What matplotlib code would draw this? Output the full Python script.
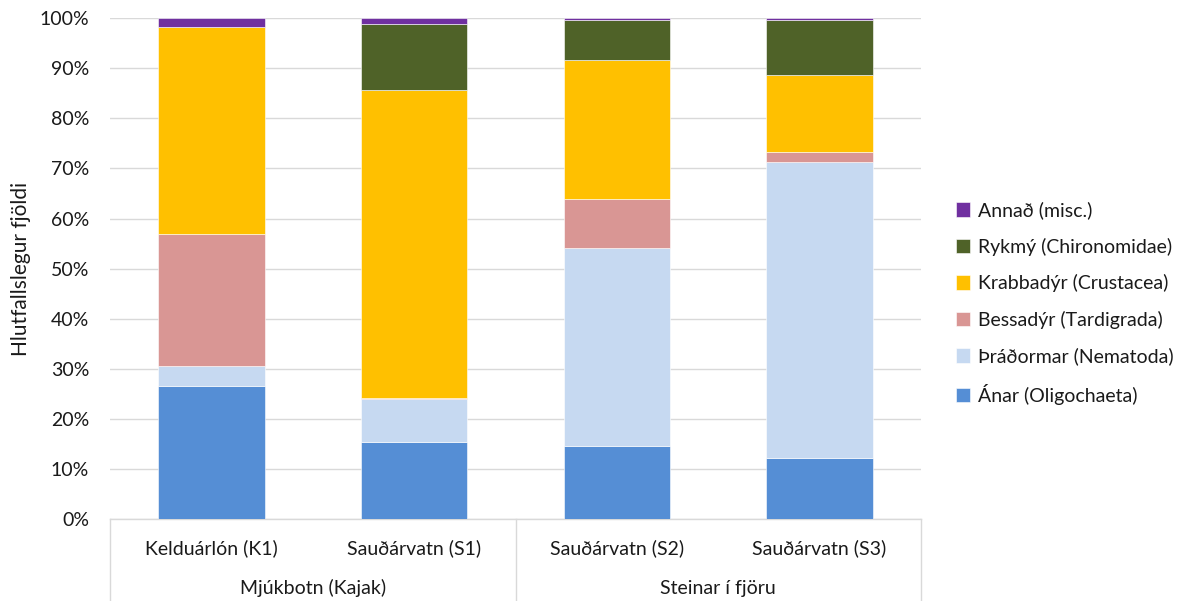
import matplotlib
matplotlib.use("Agg")
import matplotlib.pyplot as plt
import matplotlib.transforms as mtransforms
import numpy as np

plt.rcParams['font.family'] = ['Lato', 'DejaVu Sans']

# Sites and their habitat groups
sites = ["Kelduárlón (K1)", "Sauðárvatn (S1)", "Sauðárvatn (S2)", "Sauðárvatn (S3)"]
groups = ["Mjúkbotn (Kajak)", "Steinar í fjöru"]
group_spans = [(0, 1), (2, 3)]

# Relative abundance (%) per taxon, bottom to top
anar = [26.6, 15.4, 14.6, 12.3]
thradormar = [3.9, 8.6, 39.5, 58.9]
bessadyr = [26.4, 0.1, 9.8, 2.1]
krabbadyr = [41.4, 61.5, 27.7, 15.3]
rykmy = [0.0, 13.3, 8.1, 11.1]
annad = [1.7, 1.1, 0.3, 0.3]

series = [
    ("Ánar (Oligochaeta)", anar, "#558ED5"),
    ("Þráðormar (Nematoda)", thradormar, "#C6D9F1"),
    ("Bessadýr (Tardigrada)", bessadyr, "#D99694"),
    ("Krabbadýr (Crustacea)", krabbadyr, "#FFC000"),
    ("Rykmý (Chironomidae)", rykmy, "#4F6228"),
    ("Annað (misc.)", annad, "#7030A0"),
]

FS = 14
TXT = "#1a1a1a"

fig = plt.figure(figsize=(11.8, 6.01), dpi=100)
ax = fig.add_axes([110 / 1180, (601 - 519.3) / 601, (921 - 110) / 1180, (519.3 - 18) / 601])

x = np.arange(len(sites))
bottom = np.zeros(len(sites))
handles = []
for name, vals, col in series:
    vals = np.array(vals, dtype=float)
    b = ax.bar(x, vals, width=0.525, bottom=bottom, color=col, label=name,
               edgecolor="white", linewidth=0.4, zorder=3)
    handles.append(b)
    bottom += vals

ax.set_xlim(-0.5, len(sites) - 0.5)
ax.set_ylim(0, 100)
ax.set_yticks(np.arange(0, 101, 10))
ax.set_yticklabels([f"{v}%" for v in range(0, 101, 10)])
ax.yaxis.grid(True, color="#D9D9D9", linewidth=1.0, zorder=0)
ax.set_axisbelow(True)
for s in ["top", "right", "left"]:
    ax.spines[s].set_visible(False)
ax.spines["bottom"].set_color("#D9D9D9")
ax.spines["bottom"].set_linewidth(1.0)
ax.tick_params(axis="y", length=0, pad=15, labelsize=FS, labelcolor=TXT)
ax.tick_params(axis="x", length=0)
ax.set_xticks([])

ax.set_ylabel("Hlutfallslegur fjöldi", fontsize=15, color=TXT, labelpad=6)

# Two-level category axis below the plot
trans = mtransforms.blended_transform_factory(ax.transData, ax.transAxes)
h = ax.get_position().height * 601
for i, s in enumerate(sites):
    ax.text(i, -29 / h, s, transform=trans, ha="center", va="center",
            fontsize=FS, color=TXT)
for g, (a, b_) in zip(groups, group_spans):
    ax.text((a + b_) / 2, -69 / h, g, transform=trans, ha="center", va="center",
            fontsize=FS, color=TXT)
for xv in [-0.5, 1.5, 3.5]:
    ax.plot([xv, xv], [0, -85 / h], transform=trans, color="#D9D9D9",
            linewidth=1.0, clip_on=False)

leg = fig.legend(handles[::-1], [s[0] for s in series][::-1],
                 loc="center left", bbox_to_anchor=(938 / 1180, 1 - 303 / 601),
                 frameon=False, fontsize=FS, handlelength=0.75, handleheight=0.75,
                 handletextpad=0.4, labelspacing=0.95)
for t in leg.get_texts():
    t.set_color(TXT)

fig.savefig("out.png", dpi=100)
